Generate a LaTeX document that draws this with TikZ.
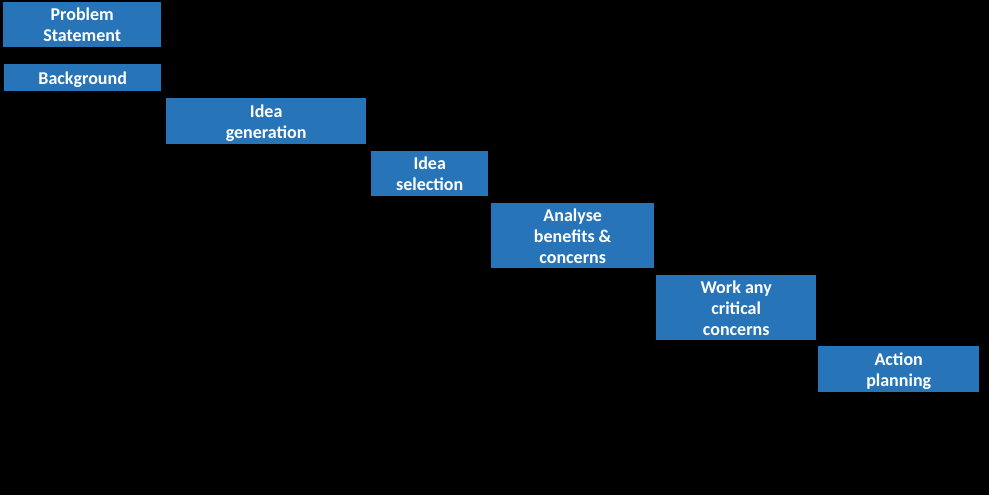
\documentclass[tikz,border=0pt]{standalone}
\usepackage{fontspec}
\setmainfont{Carlito}
\definecolor{stepblue}{RGB}{40,116,184}
\tikzset{
    stepbox/.style={fill=stepblue, text=white, font=\fontsize{18}{21}\selectfont\bfseries,
        align=center, anchor=north west, inner sep=0pt, text depth=-7pt},
}
\begin{document}
\begin{tikzpicture}[x=1pt, y=-1pt]
    \fill[black](0,0)rectangle(989,495);
    \node[stepbox, minimum width=158, minimum height=45] (problem) at (3,2) {Problem\\Statement};
    \node[stepbox, minimum width=157, minimum height=27] (background) at (4,64) {Background};
    \node[stepbox, minimum width=200, minimum height=46] (ideagen) at (166,98) {Idea\\generation};
    \node[stepbox, minimum width=117, minimum height=45] (ideasel) at (371,151) {Idea\\selection};
    \node[stepbox, minimum width=163, minimum height=65] (analyse) at (491,203) {Analyse\\benefits \&\\concerns};
    \node[stepbox, minimum width=160, minimum height=65] (critical) at (656,275) {Work any\\critical\\concerns};
    \node[stepbox, minimum width=161, minimum height=46] (action) at (818,346) {Action\\planning};
\end{tikzpicture}
\end{document}
